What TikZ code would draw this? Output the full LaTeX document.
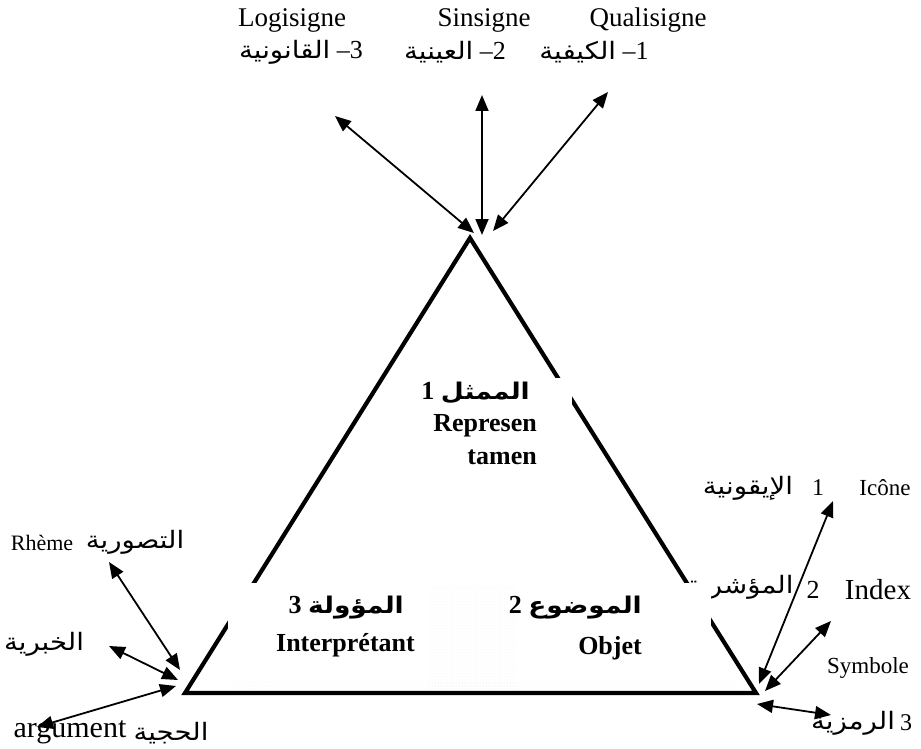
\documentclass[tikz,border=0pt]{standalone}
\usepackage{fontspec}
\setmainfont{Liberation Serif}
\newfontfamily\arabicfont[Script=Arabic,FakeStretch=1.15]{DejaVu Sans}
\TeXXeTstate=1
\usetikzlibrary{arrows.meta,patterns}
\newcommand\artxt[2][24]{{\arabicfont\fontsize{#1}{#1}\selectfont\beginR #2\endR}}
\newcommand\artxtb[2][23]{{\arabicfont\bfseries\fontsize{#1}{#1}\selectfont\beginR #2\endR}}
\begin{document}
\begin{tikzpicture}[x=1pt,y=-1pt,
  txt/.style={inner sep=0pt, font=\fontsize{#1}{#1}\selectfont},
  txt/.default=24,
  bld/.style={inner sep=0pt, font=\fontsize{26}{26}\selectfont\bfseries},
  arw/.style={line width=1.8pt, {Triangle[length=16pt,width=13pt]}-{Triangle[length=16pt,width=13pt]}},
  tri/.style={line width=4.2pt, line join=miter},
  mask/.style={fill=white}]
\useasboundingbox (0,0) rectangle (921,749);
% triangle
\coordinate (A) at (470,238);
\coordinate (L) at (185,693);
\coordinate (R) at (756,693);
\draw[tri] (A) -- (L) -- (R) -- cycle;
% partially hidden label near the right side
\node[txt] (idxA) at (740,587) {\artxt{المؤشرية}};
% white text boxes that cut the triangle
\fill[mask] (432,378) rectangle (572,470);
\fill[mask] (228,583) rectangle (420,682);
\fill[mask] (520,583) rectangle (711,682);
% faint dotted areas
\fill[pattern=dots, pattern color=gray!14] (428,586) rectangle (516,688);
\fill[pattern=dots, pattern color=gray!12] (232,681) rectangle (735,689);
% triangle labels
\node[bld, anchor=east] (rep1) at (530,393) {1 \artxtb{الممثل}};
\node[bld, anchor=east] (rep2) at (537,426) {Represen};
\node[bld, anchor=east] (rep3) at (537,457) {tamen};
\node[bld, anchor=east] (int1) at (404,608) {3 \artxtb{المؤولة}};
\node[bld, anchor=east] (int2) at (415,645) {Interprétant};
\node[bld, anchor=east] (obj1) at (642,608) {2 \artxtb{الموضوع}};
\node[bld, anchor=east] (obj2) at (642,648) {Objet};
% top labels
\node[txt=27] (logi) at (292,20) {Logisigne};
\node[txt=27] (sins) at (484,20) {Sinsigne};
\node[txt=27] (qual) at (648,20) {Qualisigne};
\node[txt=26] (q3) at (301,52) {\artxt{القانونية} –3};
\node[txt=26] (q2) at (455,52) {\artxt{العينية} –2};
\node[txt=26] (q1) at (594,52) {\artxt{الكيفية} –1};
% right labels
\node[txt] (icoA) at (748,488) {\artxt{الإيقونية}};
\node[txt=24] (ico1) at (818,488) {1};
\node[txt=23] (ico) at (885,488) {Icône};
\node[txt=26] (idx2) at (813,590) {2};
\node[txt=29] (idx) at (878,590) {Index};
\node[txt=23] (sym) at (868,668) {Symbole};
\node[txt] (symA) at (853,723) {\artxt{الرمزية}};
\node[txt=24] (sym3) at (906,723) {3};
% left labels
\node[txt=22] (rhe) at (42,543) {Rhème};
\node[txt] (rheA) at (135,542) {\artxt{التصورية}};
\node[txt] (khab) at (44,644) {\artxt{الخبرية}};
\node[txt=30] (argu) at (70,732) {argument};
\node[txt] (argA) at (171,733) {\artxt{الحجية}};
% arrow end points
\coordinate (t1) at (335,116);
\coordinate (t2) at (482,95);
\coordinate (t3) at (608,92);
\coordinate (a1) at (474,233);
\coordinate (a2) at (482,235);
\coordinate (a3) at (493,231);
\coordinate (r1) at (833,501);
\coordinate (r2) at (831,621);
\coordinate (r3) at (831,715);
\coordinate (c1) at (759,684);
\coordinate (c2) at (765,691);
\coordinate (c3) at (757,704);
\coordinate (l1) at (109,562);
\coordinate (l2) at (109,646);
\coordinate (l3) at (37,727);
\coordinate (d1) at (180,670);
\coordinate (d2) at (178,680);
\coordinate (d3) at (176,686);
% arrows
\draw[arw] (a1) -- (t1);
\draw[arw] (a2) -- (t2);
\draw[arw] (a3) -- (t3);
\draw[arw] (c1) -- (r1);
\draw[arw] (c2) -- (r2);
\draw[arw] (c3) -- (r3);
\draw[arw] (d1) -- (l1);
\draw[arw] (d2) -- (l2);
\draw[arw] (d3) -- (l3);
\end{tikzpicture}
\end{document}
